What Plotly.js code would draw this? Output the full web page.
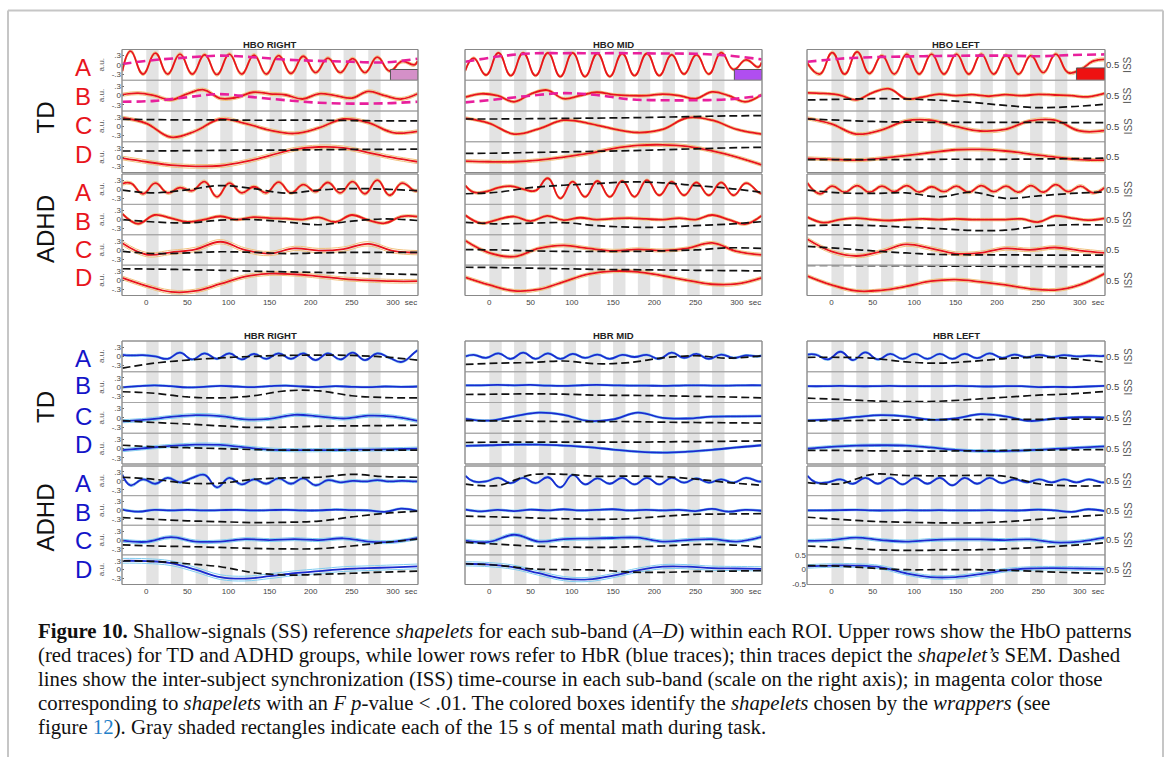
<!DOCTYPE html>
<html><head><meta charset="utf-8">
<script src="https://cdn.plot.ly/plotly-3.0.1.min.js"></script>
<style>html,body{margin:0;padding:0;background:#fff;}#chart{width:1167px;height:757px;}</style>
</head><body><div id="chart"></div>
<script>
// ---------- time grids (s) ----------
const tA_R = [-29,-19,-4,11,26,41,56,71,86,101,116,131,146,161,176,191,206,221,236,251,266,281,296,311,326,330];
const tA_L = [-29,-14,1,16,31,46,61,76,91,106,121,136,151,166,181,196,211,226,241,256,271,286,301,316,330];
const tB = [-29,-10,10,30,50,70,90,110,130,150,170,190,210,230,250,270,290,310,330];
const tCD = [-29,0,30,60,90,120,150,180,210,240,270,300,330];
const tISS = [-29,10,50,90,130,170,210,250,290,330];
const taskOnsets = [0,30,60,90,120,150,180,210,240,270];
const taskDur = 15;
const xTickVals = [0,50,100,150,200,250,300,322];
const xTickText = ['0','50','100','150','200','250','300','sec'];
const bandLabels = ['A','B','C','D'];
const groupLabels = ['TD','ADHD'];

// ---------- HBO RIGHT ----------
const hboR_td_A = [-0.2,0.45,-0.3,0.38,-0.3,0.35,-0.3,0.33,-0.32,0.35,-0.3,0.32,-0.3,0.3,-0.28,0.28,-0.25,0.22,-0.25,0.2,-0.25,0.25,-0.2,0.11,0.0,0.12];
const hboR_td_A_iss = [0.53,0.66,0.74,0.8,0.75,0.67,0.63,0.6,0.58,0.7];
const hboR_td_B = [0.03,0.08,0.0,-0.14,0.06,0.19,-0.09,-0.06,0.11,0.06,0.02,-0.11,0.06,0.0,-0.08,0.14,0.0,-0.11,0.06];
const hboR_td_B_iss = [0.3,0.33,0.45,0.55,0.45,0.35,0.27,0.24,0.25,0.3];
const hboR_td_C = [0.28,0.1,-0.35,-0.15,0.24,0.1,-0.12,-0.23,-0.05,0.24,0.12,-0.2,-0.16];
const hboR_td_C_iss = [0.73,0.72,0.71,0.71,0.7,0.7,0.7,0.69,0.68,0.68];
const hboR_td_D = [-0.03,-0.15,-0.26,-0.3,-0.28,-0.15,0.05,0.25,0.33,0.3,0.15,-0.02,-0.15];
const hboR_td_D_iss = [0.7,0.7,0.71,0.72,0.73,0.73,0.74,0.75,0.75,0.76];
const hboR_ad_A = [0.18,0.2,-0.15,0.2,-0.12,0.05,-0.05,0.25,-0.25,0.2,-0.12,0.08,-0.12,0.23,-0.12,0.15,-0.08,0.22,-0.12,0.25,-0.15,0.3,-0.2,0.2,-0.05,-0.05];
const hboR_ad_A_iss = [0.47,0.38,0.48,0.62,0.52,0.37,0.47,0.52,0.5,0.45];
const hboR_ad_B = [0.19,-0.14,0.15,0.05,-0.08,0.0,0.11,0.0,0.08,0.05,0.03,0.0,0.07,-0.08,0.15,-0.02,-0.12,0.1,0.1];
const hboR_ad_B_iss = [0.5,0.42,0.39,0.48,0.5,0.42,0.33,0.45,0.52,0.47];
const hboR_ad_C = [0.22,-0.15,-0.08,0.02,0.27,0.0,-0.12,0.05,-0.02,0.03,0.2,-0.03,-0.09];
const hboR_ad_C_iss = [0.45,0.38,0.4,0.44,0.42,0.38,0.4,0.42,0.42,0.42];
const hboR_ad_D = [0.08,-0.18,-0.38,-0.35,-0.12,0.12,0.22,0.2,0.13,0.05,0.0,-0.03,-0.03];
const hboR_ad_D_iss = [0.88,0.87,0.85,0.83,0.8,0.78,0.76,0.74,0.71,0.69];

// ---------- HBO MID ----------
const hboM_td_A = [-0.18,0.22,-0.33,0.39,-0.35,0.39,-0.35,0.39,-0.38,0.39,-0.38,0.37,-0.38,0.37,-0.35,0.37,-0.35,0.33,-0.3,0.33,-0.3,0.4,-0.15,0.16,-0.07,0.08];
const hboM_td_A_iss = [0.6,0.77,0.87,0.88,0.88,0.88,0.87,0.86,0.8,0.68];
const hboM_td_B = [-0.05,0.06,0.0,-0.2,0.05,0.18,-0.1,0.0,0.11,0.03,0.0,0.0,0.05,0.0,-0.1,0.12,0.0,-0.2,0.03];
const hboM_td_B_iss = [0.28,0.38,0.5,0.58,0.52,0.38,0.35,0.35,0.38,0.5];
const hboM_td_C = [0.27,0.1,-0.25,-0.08,0.2,0.1,-0.08,-0.2,-0.1,0.28,0.2,-0.1,-0.25];
const hboM_td_C_iss = [0.74,0.74,0.75,0.76,0.77,0.78,0.8,0.82,0.84,0.85];
const hboM_td_D = [-0.13,-0.15,-0.15,-0.1,0.0,0.12,0.28,0.38,0.4,0.35,0.2,0.0,-0.25];
const hboM_td_D_iss = [0.62,0.63,0.65,0.67,0.69,0.71,0.74,0.77,0.8,0.82];
const hboM_ad_A = [0.12,-0.1,-0.08,0.05,0.1,0.0,-0.05,0.36,-0.3,0.25,-0.25,0.27,-0.25,0.27,-0.25,0.3,-0.2,0.25,-0.2,0.22,-0.2,0.22,-0.2,0.2,-0.1,-0.15];
const hboM_ad_A_iss = [0.35,0.4,0.55,0.63,0.68,0.74,0.71,0.62,0.53,0.4];
const hboM_ad_B = [0.14,-0.12,0.0,0.1,-0.05,0.12,-0.02,0.06,0.0,0.03,0.05,0.02,0.0,0.05,0.0,0.15,0.0,-0.15,0.13];
const hboM_ad_B_iss = [0.41,0.36,0.38,0.4,0.3,0.25,0.25,0.3,0.35,0.43];
const hboM_ad_C = [0.3,-0.1,-0.22,0.05,0.15,0.05,-0.03,0.02,-0.02,0.05,0.23,-0.05,-0.16];
const hboM_ad_C_iss = [0.51,0.5,0.47,0.45,0.45,0.45,0.47,0.5,0.57,0.55];
const hboM_ad_D = [0.1,-0.15,-0.35,-0.3,-0.05,0.2,0.3,0.28,0.15,0.0,-0.13,-0.12,0.08];
const hboM_ad_D_iss = [0.93,0.92,0.9,0.88,0.86,0.85,0.84,0.83,0.82,0.81];

// ---------- HBO LEFT ----------
const hboL_td_A = [0.05,-0.3,0.4,-0.3,0.42,-0.28,0.3,-0.3,0.35,-0.3,0.35,-0.3,0.35,-0.3,0.35,-0.3,0.32,-0.3,0.3,-0.25,0.35,-0.25,-0.15,0.12,0.18];
const hboL_td_A_iss = [0.6,0.7,0.75,0.77,0.79,0.8,0.8,0.78,0.82,0.84];
const hboL_td_B = [0.09,0.07,0.02,-0.14,0.1,0.22,-0.1,-0.05,0.05,0.0,0.03,-0.02,0.03,0.0,0.04,0.02,0.0,-0.04,0.07];
const hboL_td_B_iss = [0.36,0.38,0.4,0.39,0.35,0.28,0.18,0.11,0.14,0.22];
const hboL_td_C = [0.26,0.08,-0.25,-0.12,0.18,0.2,0.0,-0.15,-0.1,0.18,0.2,-0.15,-0.14];
const hboL_td_C_iss = [0.74,0.7,0.66,0.64,0.63,0.63,0.63,0.63,0.62,0.62];
const hboL_td_D = [-0.04,-0.07,-0.1,-0.04,0.05,0.15,0.24,0.25,0.2,0.1,0.0,-0.08,-0.1];
const hboL_td_D_iss = [0.42,0.42,0.42,0.42,0.43,0.43,0.43,0.44,0.45,0.47];
const hboL_ad_A = [0.2,-0.15,0.1,-0.1,0.12,-0.1,0.1,-0.08,0.12,-0.1,0.08,-0.08,0.1,-0.1,0.12,-0.08,0.1,-0.1,0.12,-0.1,0.15,-0.08,0.1,-0.12,0.05];
const hboL_ad_A_iss = [0.47,0.38,0.36,0.38,0.25,0.4,0.2,0.28,0.36,0.41];
const hboL_ad_B = [0.08,-0.1,0.0,0.05,0.0,-0.03,0.0,0.02,0.0,0.02,0.0,0.0,0.0,0.02,-0.08,0.12,0.05,-0.02,0.04];
const hboL_ad_B_iss = [0.3,0.32,0.3,0.25,0.2,0.14,0.15,0.28,0.33,0.32];
const hboL_ad_C = [0.35,-0.05,-0.2,-0.05,0.18,0.05,-0.12,-0.1,0.05,0.0,0.08,-0.02,-0.1];
const hboL_ad_C_iss = [0.62,0.55,0.47,0.4,0.35,0.34,0.34,0.33,0.33,0.33];
const hboL_ad_D = [0.14,-0.15,-0.35,-0.33,-0.2,-0.03,0.02,-0.05,-0.15,-0.28,-0.32,-0.15,0.22];
const hboL_ad_D_iss = [0.99,0.99,0.98,0.98,0.97,0.97,0.96,0.96,0.95,0.95];

// ---------- HBR RIGHT ----------
const hbrR_td_A = [0.05,0.03,0.04,0.0,-0.08,0.12,-0.1,0.1,-0.08,0.1,-0.1,0.08,-0.08,0.1,-0.08,0.1,-0.12,0.1,-0.1,0.12,-0.12,0.1,-0.05,-0.18,0.12,0.2];
const hbrR_td_A_iss = [0.12,0.28,0.38,0.45,0.5,0.53,0.54,0.53,0.48,0.38];
const hbrR_td_B = [-0.01,0.03,0.06,0.03,-0.01,0.01,0.04,0.02,0.0,0.03,0.05,0.02,0.0,0.03,0.01,0.0,0.02,0.01,0.02];
const hbrR_td_B_iss = [0.35,0.3,0.18,0.15,0.22,0.38,0.38,0.22,0.16,0.15];
const hbrR_td_C = [-0.11,-0.06,0.03,0.09,0.06,-0.05,-0.03,0.1,0.05,-0.02,0.07,0.04,-0.1];
const hbrR_td_C_iss = [0.41,0.35,0.3,0.24,0.19,0.2,0.23,0.24,0.25,0.26];
const hbrR_td_D = [-0.05,0.02,0.09,0.13,0.12,0.04,-0.03,-0.05,-0.05,-0.04,-0.03,-0.02,0.0];
const hbrR_td_D_iss = [0.61,0.56,0.53,0.5,0.47,0.45,0.45,0.45,0.45,0.45];
const hbrR_ad_A = [0.2,-0.15,0.05,-0.1,0.1,-0.05,0.1,0.2,-0.22,0.1,-0.12,0.05,-0.1,0.08,-0.1,0.08,-0.15,0.02,-0.05,0.0,-0.02,0.02,-0.02,0.0,-0.02,-0.02];
const hbrR_ad_A_iss = [0.62,0.55,0.42,0.42,0.55,0.6,0.62,0.72,0.64,0.62];
const hbrR_ad_B = [0.03,-0.04,0.02,0.0,0.02,0.0,0.01,0.02,0.0,0.01,0.02,0.0,0.0,0.03,0.01,0.0,-0.05,0.06,-0.02];
const hbrR_ad_B_iss = [0.26,0.2,0.15,0.12,0.09,0.1,0.14,0.28,0.4,0.48];
const hbrR_ad_C = [-0.02,-0.06,0.1,-0.05,-0.05,0.03,0.0,0.03,0.0,0.06,-0.05,-0.06,0.07];
const hbrR_ad_C_iss = [0.34,0.3,0.28,0.25,0.22,0.2,0.21,0.3,0.42,0.53];
const hbrR_ad_D = [0.3,0.29,0.22,0.0,-0.25,-0.3,-0.22,-0.12,-0.05,0.02,0.05,0.08,0.11];
const hbrR_ad_D_iss = [0.8,0.78,0.7,0.6,0.4,0.32,0.34,0.38,0.42,0.45];

// ---------- HBR MID ----------
const hbrM_td_A = [0.0,0.05,-0.05,0.1,-0.08,0.12,-0.08,0.1,-0.08,0.08,-0.05,0.06,-0.08,0.05,-0.02,0.05,-0.08,0.12,-0.05,0.08,-0.08,0.06,-0.05,0.03,0.0,0.03];
const hbrM_td_A_iss = [0.24,0.28,0.3,0.35,0.26,0.3,0.45,0.52,0.44,0.52];
const hbrM_td_B = [0.06,0.06,0.07,0.06,0.07,0.05,0.04,0.06,0.07,0.06,0.05,0.05,0.04,0.05,0.06,0.05,0.05,0.06,0.06];
const hbrM_td_B_iss = [0.26,0.27,0.28,0.27,0.24,0.23,0.22,0.2,0.18,0.15];
const hbrM_td_C = [-0.03,-0.09,0.05,0.17,0.1,-0.1,-0.05,0.17,0.0,-0.02,0.04,0.05,0.06];
const hbrM_td_C_iss = [0.41,0.4,0.39,0.38,0.38,0.38,0.36,0.35,0.34,0.33];
const hbrM_td_D = [0.09,0.11,0.13,0.13,0.1,0.05,-0.03,-0.1,-0.13,-0.1,-0.04,0.04,0.11];
const hbrM_td_D_iss = [0.7,0.71,0.71,0.71,0.71,0.71,0.72,0.73,0.74,0.75];
const hbrM_ad_A = [0.17,-0.02,-0.02,0.1,-0.08,0.1,-0.08,0.12,-0.22,0.2,-0.12,0.08,-0.1,0.1,-0.12,0.1,-0.12,0.1,-0.06,0.08,-0.06,0.05,-0.06,0.1,-0.02,-0.02];
const hbrM_ad_A_iss = [0.39,0.34,0.7,0.72,0.65,0.66,0.64,0.56,0.44,0.35];
const hbrM_ad_B = [0.03,-0.03,0.02,-0.02,0.03,0.0,0.04,0.0,0.02,0.04,0.0,0.02,0.0,0.02,-0.02,0.05,-0.04,0.02,-0.01];
const hbrM_ad_B_iss = [0.31,0.28,0.25,0.22,0.2,0.22,0.3,0.37,0.38,0.39];
const hbrM_ad_C = [-0.02,-0.06,0.18,-0.05,0.03,0.05,0.07,0.08,-0.05,0.0,0.03,-0.05,0.11];
const hbrM_ad_C_iss = [0.42,0.36,0.3,0.27,0.25,0.27,0.3,0.35,0.34,0.26];
const hbrM_ad_D = [0.2,0.17,0.08,-0.12,-0.3,-0.33,-0.2,-0.02,0.1,0.1,0.05,0.04,0.03];
const hbrM_ad_D_iss = [0.7,0.65,0.53,0.5,0.49,0.42,0.41,0.44,0.45,0.47];

// ---------- HBR LEFT ----------
const hbrL_td_A = [0.06,0.06,-0.1,0.15,-0.12,0.13,-0.1,0.08,-0.08,0.08,-0.08,0.08,-0.08,0.08,-0.06,0.1,-0.05,0.06,-0.03,0.05,-0.02,0.04,0.0,0.02,0.01,0.02];
const hbrL_td_A_iss = [0.47,0.47,0.44,0.32,0.28,0.34,0.43,0.47,0.43,0.31];
const hbrL_td_B = [0.03,0.03,0.04,0.03,0.03,0.04,0.03,0.03,0.03,0.04,0.03,0.02,0.03,0.03,0.0,0.01,0.0,0.02,0.04];
const hbrL_td_B_iss = [0.14,0.1,0.05,0.03,0.04,0.1,0.17,0.24,0.28,0.36];
const hbrL_td_C = [-0.08,-0.05,0.03,0.09,0.05,-0.06,-0.02,0.12,0.05,-0.1,-0.02,0.02,0.01];
const hbrL_td_C_iss = [0.4,0.41,0.42,0.43,0.44,0.44,0.45,0.45,0.46,0.46];
const hbrL_td_D = [0.0,0.06,0.1,0.11,0.1,0.04,-0.04,-0.08,-0.08,-0.05,-0.01,0.03,0.07];
const hbrL_td_D_iss = [0.44,0.44,0.43,0.42,0.42,0.43,0.44,0.45,0.46,0.47];
const hbrL_ad_A = [0.17,-0.05,-0.05,0.05,-0.1,0.1,-0.1,0.1,-0.12,0.1,-0.1,0.1,-0.15,0.1,-0.1,0.1,-0.08,0.05,-0.05,0.05,-0.05,0.05,-0.05,0.05,-0.05,-0.05];
const hbrL_ad_A_iss = [0.44,0.4,0.72,0.68,0.67,0.68,0.65,0.4,0.33,0.33];
const hbrL_ad_B = [0.0,0.0,0.01,0.02,0.0,0.0,0.01,0.0,0.01,0.0,0.0,0.01,0.0,0.0,0.03,0.0,-0.05,0.04,-0.02];
const hbrL_ad_B_iss = [0.27,0.2,0.13,0.1,0.08,0.08,0.12,0.2,0.28,0.35];
const hbrL_ad_C = [-0.03,0.0,0.08,0.0,-0.05,0.0,0.02,0.02,0.0,0.02,-0.08,-0.05,0.08];
const hbrL_ad_C_iss = [0.3,0.25,0.18,0.15,0.16,0.17,0.2,0.25,0.32,0.41];
const hbrL_ad_D = [0.11,0.14,0.14,0.08,-0.12,-0.25,-0.25,-0.15,-0.02,0.04,0.05,0.04,0.03];
const hbrL_ad_D_iss = [0.64,0.62,0.55,0.5,0.5,0.5,0.48,0.44,0.4,0.37];

// SEM half-widths per row (TD A-D, ADHD A-D)
const semHboR = [0.05,0.05,0.05,0.06,0.05,0.04,0.07,0.06];
const semHboM = [0.04,0.04,0.04,0.05,0.04,0.04,0.05,0.05];
const semHboL = [0.05,0.04,0.05,0.05,0.05,0.04,0.06,0.05];
const semHbrR = [0.03,0.025,0.05,0.05,0.04,0.03,0.05,0.08];
const semHbrM = [0.03,0.025,0.03,0.03,0.03,0.03,0.05,0.07];
const semHbrL = [0.03,0.025,0.03,0.04,0.03,0.03,0.05,0.06];

// wrapper-selected shapelet boxes (HBO TD A rows)
const boxStart = [297,297,296];
const boxTop = [-0.15,-0.15,-0.1];
const boxColors = ['#d490c8','#b04ef0','#ee1111'];

// ---------- layout geometry ----------
const W=1167,H=757;
const fx=x=>x/W, fy=y=>1-y/H;
const colX=[[122,418],[465,762],[807,1105]];
const blocksHbo=[[49.5,172.5],[174,295.5]];
const blocksHbr=[[341,464],[466,584.5]];
const letterYHbo=[66.7,95,124.7,153.7,191.7,220,248,276.7];
const letterYHbr=[357,385,415,443.7,482,511,539.3,568];

const panels=[
 {title:'HBO RIGHT',kind:'hbo',col:0,tA:tA_R,sem:semHboR,box:0,mag:[1,1,0,0,0,0,0,0],
  rows:[hboR_td_A,hboR_td_B,hboR_td_C,hboR_td_D,hboR_ad_A,hboR_ad_B,hboR_ad_C,hboR_ad_D],
  iss:[hboR_td_A_iss,hboR_td_B_iss,hboR_td_C_iss,hboR_td_D_iss,hboR_ad_A_iss,hboR_ad_B_iss,hboR_ad_C_iss,hboR_ad_D_iss]},
 {title:'HBO MID',kind:'hbo',col:1,tA:tA_R,sem:semHboM,box:1,mag:[1,1,0,0,0,0,0,0],
  rows:[hboM_td_A,hboM_td_B,hboM_td_C,hboM_td_D,hboM_ad_A,hboM_ad_B,hboM_ad_C,hboM_ad_D],
  iss:[hboM_td_A_iss,hboM_td_B_iss,hboM_td_C_iss,hboM_td_D_iss,hboM_ad_A_iss,hboM_ad_B_iss,hboM_ad_C_iss,hboM_ad_D_iss]},
 {title:'HBO LEFT',kind:'hbo',col:2,tA:tA_L,sem:semHboL,box:2,mag:[1,0,0,0,0,0,0,0],issLab:[1,1,1,0,1,1,0,1],
  rows:[hboL_td_A,hboL_td_B,hboL_td_C,hboL_td_D,hboL_ad_A,hboL_ad_B,hboL_ad_C,hboL_ad_D],
  iss:[hboL_td_A_iss,hboL_td_B_iss,hboL_td_C_iss,hboL_td_D_iss,hboL_ad_A_iss,hboL_ad_B_iss,hboL_ad_C_iss,hboL_ad_D_iss]},
 {title:'HBR RIGHT',kind:'hbr',col:0,tA:tA_R,sem:semHbrR,box:-1,mag:[0,0,0,0,0,0,0,0],
  rows:[hbrR_td_A,hbrR_td_B,hbrR_td_C,hbrR_td_D,hbrR_ad_A,hbrR_ad_B,hbrR_ad_C,hbrR_ad_D],
  iss:[hbrR_td_A_iss,hbrR_td_B_iss,hbrR_td_C_iss,hbrR_td_D_iss,hbrR_ad_A_iss,hbrR_ad_B_iss,hbrR_ad_C_iss,hbrR_ad_D_iss]},
 {title:'HBR MID',kind:'hbr',col:1,tA:tA_R,sem:semHbrM,box:-1,mag:[0,0,0,0,0,0,0,0],
  rows:[hbrM_td_A,hbrM_td_B,hbrM_td_C,hbrM_td_D,hbrM_ad_A,hbrM_ad_B,hbrM_ad_C,hbrM_ad_D],
  iss:[hbrM_td_A_iss,hbrM_td_B_iss,hbrM_td_C_iss,hbrM_td_D_iss,hbrM_ad_A_iss,hbrM_ad_B_iss,hbrM_ad_C_iss,hbrM_ad_D_iss]},
 {title:'HBR LEFT',kind:'hbr',col:2,tA:tA_R,sem:semHbrL,box:-1,mag:[0,0,0,0,0,0,0,0],issLab:[1,1,1,1,1,1,1,1],
  rows:[hbrL_td_A,hbrL_td_B,hbrL_td_C,hbrL_td_D,hbrL_ad_A,hbrL_ad_B,hbrL_ad_C,hbrL_ad_D],
  iss:[hbrL_td_A_iss,hbrL_td_B_iss,hbrL_td_C_iss,hbrL_td_D_iss,hbrL_ad_A_iss,hbrL_ad_B_iss,hbrL_ad_C_iss,hbrL_ad_D_iss]}
];

const SANS='Liberation Sans, Arial, sans-serif';
const data=[], shapes=[], ann=[];
const layout={width:W,height:H,margin:{l:0,r:0,t:0,b:0},paper_bgcolor:'#fff',plot_bgcolor:'rgba(0,0,0,0)',
  showlegend:false,font:{family:SANS,color:'#333'}};
let yCount=0;

panels.forEach((p,pi)=>{
  const xid=pi===0?'':String(pi+1);
  const xname='x'+xid, xkey='xaxis'+xid;
  const blocks=p.kind==='hbo'?blocksHbo:blocksHbr;
  const cx=colX[p.col];
  const mainC=p.kind==='hbo'?'#e8141c':'#1a2bd0';
  const semC=p.kind==='hbo'?'#f0c27c':'#80cdf0';
  let bottomY='y';
  blocks.forEach(blk=>{
    taskOnsets.forEach(t0=>shapes.push({type:'rect',xref:xname,yref:'paper',x0:t0,x1:t0+taskDur,
      y0:fy(blk[1]),y1:fy(blk[0]),fillcolor:'#e3e3e3',line:{width:0},layer:'below'}));
  });
  for(let r=0;r<8;r++){
    const blk=blocks[Math.floor(r/4)], h=(blk[1]-blk[0])/4;
    const top=blk[0]+(r%4)*h, bot=top+h;
    yCount++; const yb=yCount; yCount++; const yo=yCount;
    const ybName='y'+(yb===1?'':yb), ybKey='yaxis'+(yb===1?'':yb);
    const yoName='y'+yo, yoKey='yaxis'+yo;
    bottomY=ybName;
    const special=(pi===5&&r===7);
    layout[ybKey]={domain:[fy(bot),fy(top)],range:[-0.5,0.5],anchor:xname,showgrid:false,zeroline:false,showline:false,
      fixedrange:true,showticklabels:(p.col===0||special),
      tickvals:special?[-0.5,0,0.5]:[-0.3,0,0.3],ticktext:special?['-0.5','0','0.5']:['-.3','0','.3'],
      ticks:p.col===0?'inside':'',ticklen:2,tickcolor:'#666',tickfont:{size:8,color:'#444',family:SANS}};
    layout[yoKey]={overlaying:ybName,anchor:xname,side:'right',range:[0,1],showgrid:false,zeroline:false,showline:false,
      fixedrange:true,showticklabels:p.col===2,tickvals:[0.5],ticktext:['0.5'],ticks:'',tickfont:{size:9.5,color:'#444',family:SANS}};
    const t=r%4===0?p.tA:(r%4===1?tB:tCD);
    const v=p.rows[r], s=p.sem[r];
    const sm=r%4===0?1.3:1.1;
    data.push({x:t,y:v.map(a=>a+s),xaxis:xname,yaxis:ybName,mode:'lines',line:{color:semC,width:1,shape:'spline',smoothing:sm},hoverinfo:'skip'});
    data.push({x:t,y:v.map(a=>a-s),xaxis:xname,yaxis:ybName,mode:'lines',line:{color:semC,width:1,shape:'spline',smoothing:sm},hoverinfo:'skip'});
    data.push({x:t,y:v,xaxis:xname,yaxis:ybName,mode:'lines',line:{color:mainC,width:1.8,shape:'spline',smoothing:sm},hoverinfo:'skip'});
    const mg=p.mag[r]===1;
    data.push({x:tISS,y:p.iss[r],xaxis:xname,yaxis:yoName,mode:'lines',
      line:{color:mg?'#e81f9c':'#111',width:mg?2.6:1.7,dash:mg?'9px,5px':'8px,4px',shape:'spline'},hoverinfo:'skip'});
    shapes.push({type:'rect',xref:'paper',yref:'paper',x0:fx(cx[0]),x1:fx(cx[1]),y0:fy(bot),y1:fy(top),
      line:{color:'#a6a6a6',width:1},fillcolor:'rgba(0,0,0,0)',layer:'above'});
    if(r===0&&p.box>=0){
      shapes.push({type:'rect',xref:xname,yref:ybName,x0:boxStart[p.box],x1:330.5,y0:-0.5,y1:boxTop[p.box],
        fillcolor:boxColors[p.box],line:{color:'#555',width:1},layer:'above'});
    }
    if(p.col===0){
      ann.push({x:fx(101.5),y:fy((top+bot)/2),text:'a.u.',textangle:-90,font:{size:8,color:'#555',family:SANS}});
    }
    if(p.col===2&&p.issLab[r]===1){
      ann.push({x:fx(1128),y:fy((top+bot)/2),text:'ISS',textangle:-90,font:{size:10,color:'#555',family:SANS}});
    }
  }
  blocks.forEach(blk=>shapes.push({type:'rect',xref:'paper',yref:'paper',x0:fx(cx[0]),x1:fx(cx[1]),y0:fy(blk[1]),y1:fy(blk[0]),
      line:{color:'#888',width:1},fillcolor:'rgba(0,0,0,0)',layer:'above'}));
  layout[xkey]={domain:[fx(cx[0]),fx(cx[1])],range:[-29.5,330.5],anchor:bottomY,showgrid:false,zeroline:false,showline:false,
    fixedrange:true,tickvals:xTickVals,ticktext:xTickText,ticks:'',tickfont:{size:8,color:'#444',family:SANS}};
  ann.push({x:fx((cx[0]+cx[1])/2),y:fy(p.kind==='hbo'?44:335),text:'<b>'+p.title+'</b>',font:{size:9.5,color:'#222',family:SANS}});
});

[['hbo',letterYHbo,'#e8141c',[117.5,229]],['hbr',letterYHbr,'#1414c8',[407,517.5]]].forEach(g=>{
  g[1].forEach((yy,i)=>ann.push({x:fx(83.3),y:fy(yy+1),text:bandLabels[i%4],font:{size:24,color:g[2],family:SANS}}));
  groupLabels.forEach((gl,i)=>ann.push({x:fx(45),y:fy(g[3][i]),text:gl,textangle:-90,font:{size:24,color:'#111',family:SANS}}));
});

const fr='#c6c6c6';
shapes.push({type:'line',xref:'paper',yref:'paper',x0:fx(8),x1:fx(1163),y0:fy(10.5),y1:fy(10.5),line:{color:fr,width:2}});
shapes.push({type:'line',xref:'paper',yref:'paper',x0:fx(8),x1:fx(8),y0:fy(10.5),y1:0,line:{color:fr,width:2}});
shapes.push({type:'line',xref:'paper',yref:'paper',x0:fx(1163),x1:fx(1163),y0:fy(10.5),y1:0,line:{color:fr,width:2}});

const capLines=[
 '<b>Figure 10.</b> Shallow-signals (SS) reference <i>shapelets</i> for each sub-band (<i>A–D</i>) within each ROI. Upper rows show the HbO patterns',
 '(red traces) for TD and ADHD groups, while lower rows refer to HbR (blue traces); thin traces depict the <i>shapelet’s</i> SEM. Dashed',
 'lines show the inter-subject synchronization (ISS) time-course in each sub-band (scale on the right axis); in magenta color those',
 'corresponding to <i>shapelets</i> with an <i>F p</i>-value &lt; .01. The colored boxes identify the <i>shapelets</i> chosen by the <i>wrappers</i> (see',
 'figure <span style="color:#1f80c8">12</span>). Gray shaded rectangles indicate each of the 15 s of mental math during task.'
];
const capY=[631,655,679,703,727];
capLines.forEach((c,i)=>ann.push({x:fx(36),y:fy(capY[i]),xanchor:'left',text:c,font:{size:20.8,color:'#111',family:'Liberation Serif, Times New Roman, serif'}}));

ann.forEach(a=>{a.xref='paper';a.yref='paper';a.showarrow=false;if(!a.xanchor)a.xanchor='center';a.yanchor='middle';});
layout.shapes=shapes; layout.annotations=ann;
Plotly.newPlot('chart',data,layout,{staticPlot:true});
</script></body></html>
